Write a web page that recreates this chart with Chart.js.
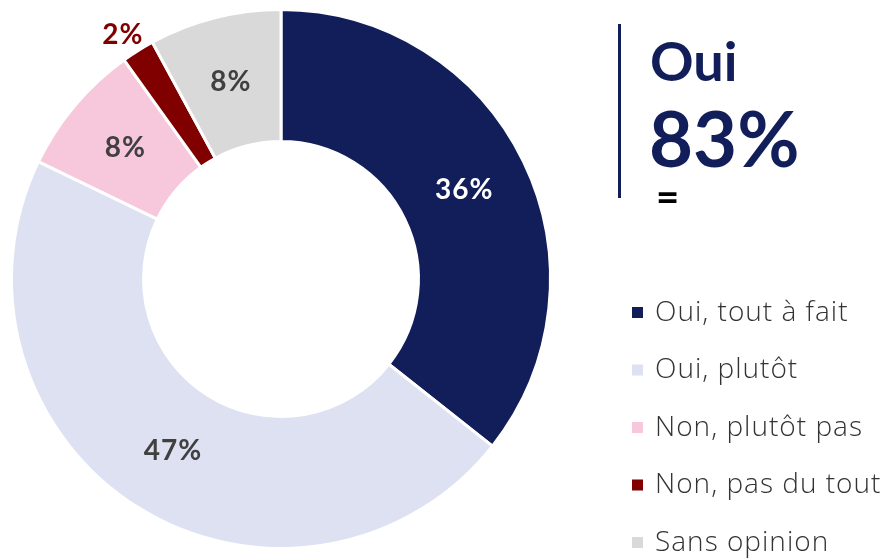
<!DOCTYPE html>
<html>
<head>
<meta charset="utf-8">
<script src="https://cdn.jsdelivr.net/npm/chart.js@4.4.1/dist/chart.umd.min.js"></script>
<style>
  html, body { margin: 0; padding: 0; background: #fff; }
  #wrap { position: relative; width: 891px; height: 558px; }
</style>
</head>
<body>
<div id="wrap"><canvas id="donut" width="891" height="558"></canvas></div>
<script>
const labels = ['Oui, tout à fait', 'Oui, plutôt', 'Non, plutôt pas', 'Non, pas du tout', 'Sans opinion'];
const values = [36, 47, 8, 2, 8];
const colors = ['#121e5a', '#dde1f1', '#f7c8dc', '#800000', '#d9d9d9'];
const labelColors = ['#ffffff', '#404040', '#404040', '#800000', '#404040'];
const outsideLabel = [false, false, false, true, false];
const headline = 'Oui';
const headlineValue = '83%';
const FONT = 'Lato, "Open Sans", sans-serif';
const LEGEND_FONT = '"Open Sans", Lato, sans-serif';

// percentage labels on each slice
const sliceLabels = {
    id: 'sliceLabels',
    afterDatasetsDraw(chart) {
        const ctx = chart.ctx;
        const meta = chart.getDatasetMeta(0);
        ctx.save();
        ctx.font = 'bold 28px ' + FONT;
        ctx.letterSpacing = '1px';
        ctx.textAlign = 'center';
        ctx.textBaseline = 'middle';
        meta.data.forEach((arc, i) => {
            const p = arc.getProps(['x', 'y', 'startAngle', 'endAngle', 'innerRadius', 'outerRadius'], true);
            const mid = (p.startAngle + p.endAngle) / 2;
            let x, y;
            if (outsideLabel[i]) {
                const r = p.outerRadius + 19;
                x = p.x + Math.cos(mid) * r - 5;
                y = p.y + Math.sin(mid) * r;
            } else {
                const r = (p.innerRadius + p.outerRadius) / 2;
                x = p.x + Math.cos(mid) * r;
                y = p.y + Math.sin(mid) * r;
            }
            ctx.fillStyle = labelColors[i];
            ctx.fillText(values[i] + '%', x, y);
        });
        ctx.restore();
    }
};

// "Oui 83%" block and legend on the right
const sidePanel = {
    id: 'sidePanel',
    afterDraw(chart) {
        const ctx = chart.ctx;
        ctx.save();
        ctx.fillStyle = '#121e5a';
        ctx.fillRect(618, 24, 3, 174);
        ctx.textAlign = 'left';
        ctx.textBaseline = 'alphabetic';
        ctx.font = 'bold 54px ' + FONT;
        ctx.fillText(headline, 650, 81);
        ctx.font = 'bold 76px ' + FONT;
        ctx.fillText(headlineValue, 649, 167);
        ctx.fillStyle = '#000';
        ctx.font = 'bold 40px ' + FONT;
        ctx.fillText('=', 656, 211);

        ctx.textBaseline = 'middle';
        ctx.font = '300 28px ' + LEGEND_FONT;
        ctx.letterSpacing = '1px';
        labels.forEach((lab, i) => {
            const y = 313 + i * 57.5;
            ctx.fillStyle = colors[i];
            ctx.fillRect(632, y - 6, 11, 11);
            ctx.fillStyle = '#333333';
            ctx.fillText(lab, 655, y);
        });
        ctx.restore();
    }
};

new Chart(document.getElementById('donut'), {
    type: 'doughnut',
    data: {
        labels: labels,
        datasets: [{
            data: values,
            backgroundColor: colors,
            borderColor: '#ffffff',
            borderWidth: 3
        }]
    },
    options: {
        responsive: false,
        animation: false,
        cutout: '51%',
        layout: { padding: { left: 0, right: 329, top: 8, bottom: 8 } },
        plugins: {
            legend: { display: false },
            tooltip: { enabled: false }
        }
    },
    plugins: [sliceLabels, sidePanel]
});
</script>
</body>
</html>
